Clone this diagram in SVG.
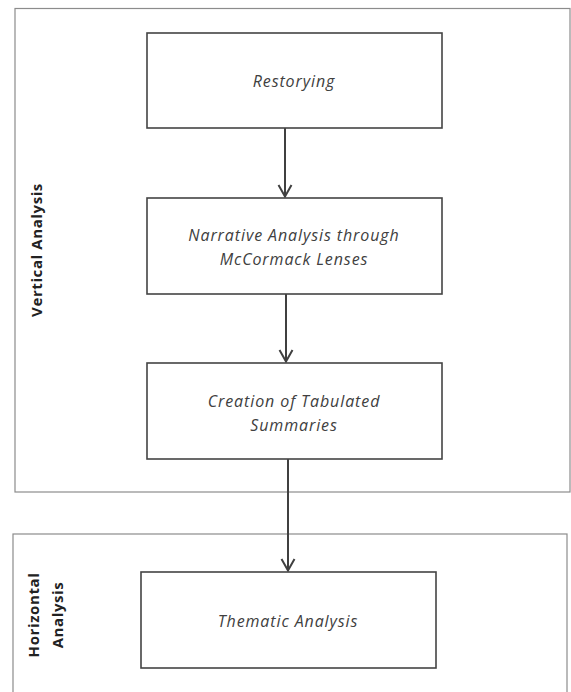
<svg xmlns="http://www.w3.org/2000/svg" width="571" height="692" viewBox="0 0 571 692">
<style>
.frame{fill:none;stroke:#8c8c8c;stroke-width:1.2}
.box{fill:#fff;stroke:#444;stroke-width:1.6}
.lbl{font-family:"Open Sans","Liberation Sans",sans-serif;font-style:italic;font-size:16px;letter-spacing:0.9px;fill:#404040;text-anchor:middle}
.side{font-family:"Open Sans","Liberation Sans",sans-serif;font-weight:bold;font-size:15px;letter-spacing:0.6px;fill:#222;text-anchor:middle}
.conn{fill:none;stroke:#404040;stroke-width:2}
</style>
<defs>
<marker id="arr" viewBox="0 0 14 16" refX="13" refY="8" markerWidth="14" markerHeight="16" markerUnits="userSpaceOnUse" orient="auto">
<path d="M1,1.5 L12.5,8 L1,14.5" fill="none" stroke="#404040" stroke-width="2"/>
</marker>
</defs>
<rect width="571" height="692" fill="#fff"/>
<g id="vertical-group">
<rect class="frame" x="15" y="8.5" width="555" height="483.5"/>
<text class="side" transform="translate(42,250) rotate(-90)">Vertical Analysis</text>
</g>
<g id="horizontal-group">
<rect class="frame" x="13" y="534" width="554" height="170"/>
<text class="side" transform="translate(39,615) rotate(-90)">Horizontal</text>
<text class="side" transform="translate(63,615) rotate(-90)">Analysis</text>
</g>
<g id="connectors">
<line class="conn" x1="285" y1="128" x2="285" y2="197" marker-end="url(#arr)"/>
<line class="conn" x1="286" y1="294" x2="286" y2="362" marker-end="url(#arr)"/>
<line class="conn" x1="288" y1="459" x2="288" y2="571" marker-end="url(#arr)"/>
</g>
<g id="restorying">
<rect class="box" x="147" y="33" width="295" height="95"/>
<text class="lbl" x="294" y="87">Restorying</text>
</g>
<g id="narrative">
<rect class="box" x="147" y="198" width="295" height="96"/>
<text class="lbl" x="294" y="241">Narrative Analysis through</text>
<text class="lbl" x="294" y="265">McCormack Lenses</text>
</g>
<g id="tabulated">
<rect class="box" x="147" y="363" width="295" height="96"/>
<text class="lbl" x="294" y="407">Creation of Tabulated</text>
<text class="lbl" x="294" y="431">Summaries</text>
</g>
<g id="thematic">
<rect class="box" x="141" y="572" width="295" height="96"/>
<text class="lbl" x="288" y="627">Thematic Analysis</text>
</g>
</svg>
